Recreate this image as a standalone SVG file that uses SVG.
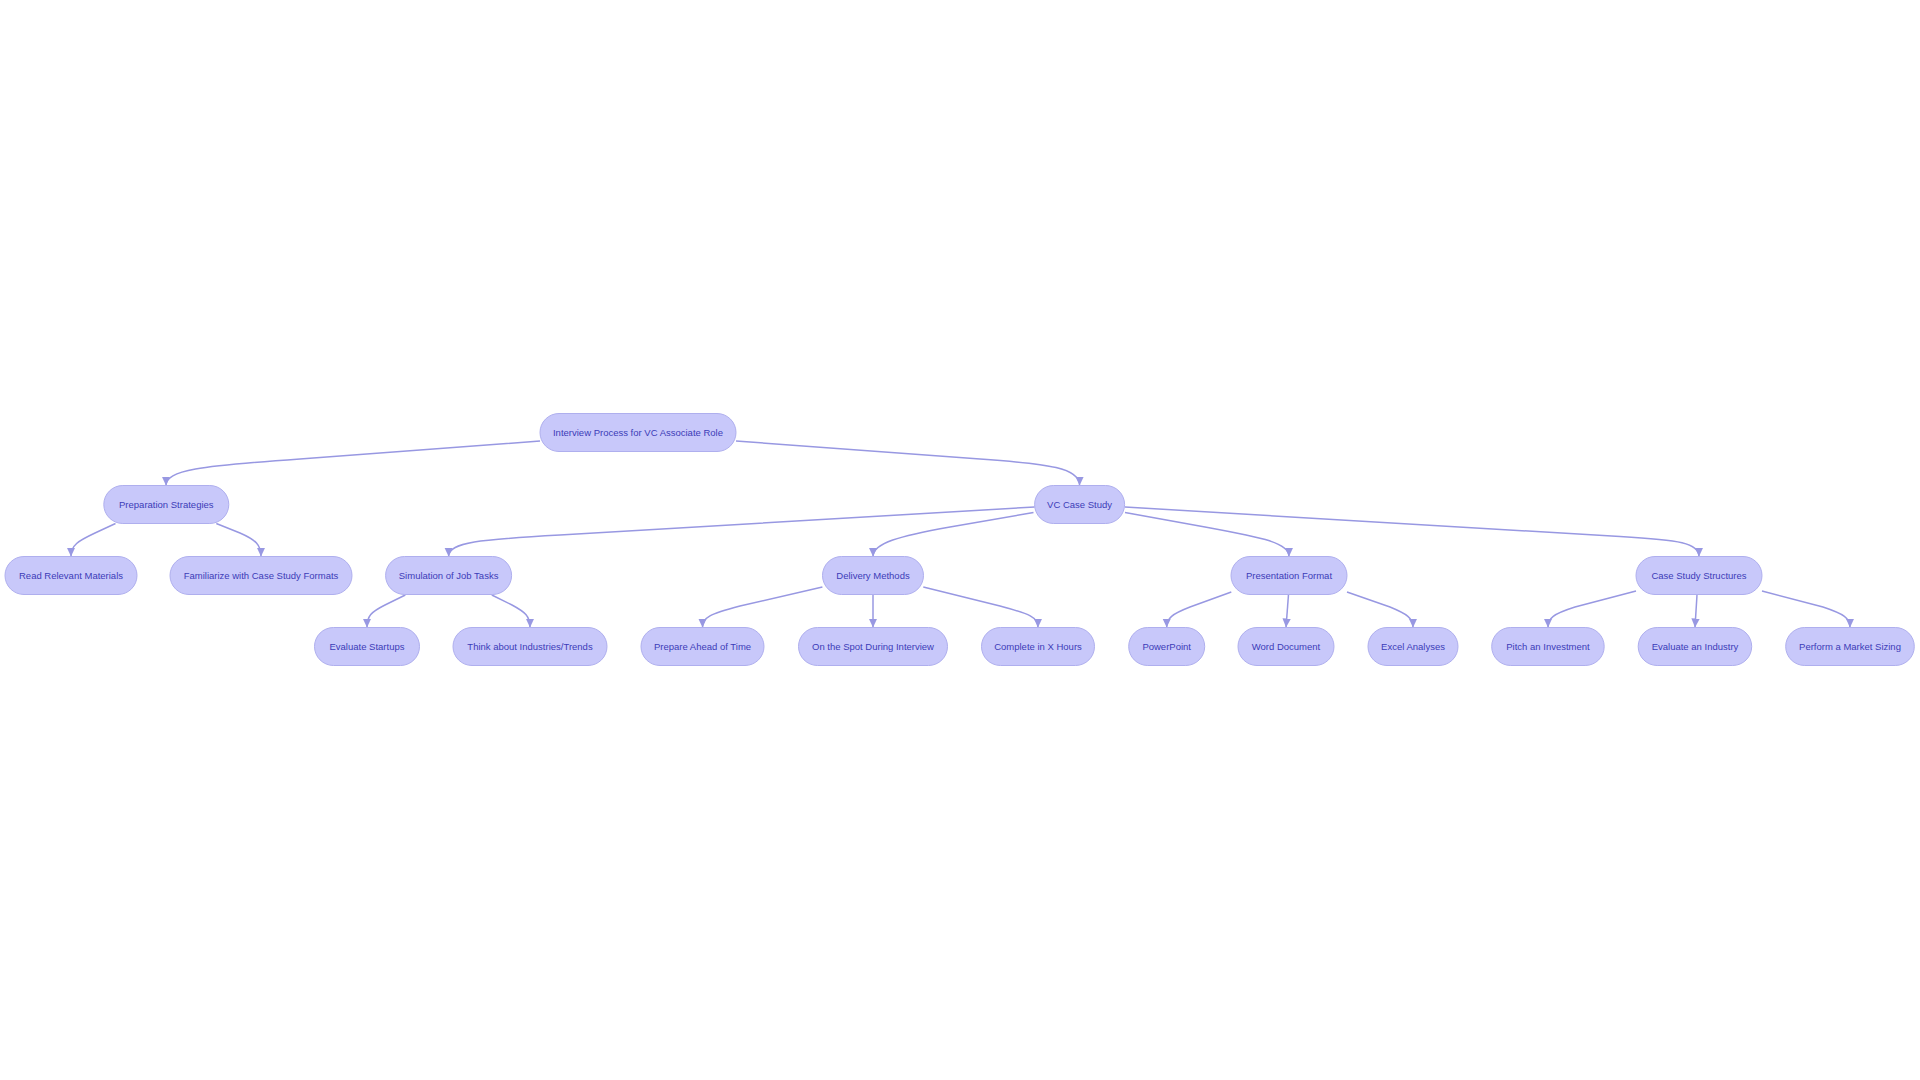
<svg xmlns="http://www.w3.org/2000/svg" width="1920" height="1080" viewBox="0 0 1920 1080">
<style>
.node rect{fill:#c8c8fa;stroke:#afafee;stroke-width:1}
.node text{font-family:"Liberation Sans",Arial,sans-serif;font-size:9.5px;fill:#3c3cb8;text-anchor:middle}
.edge{fill:none;stroke:#9898e2;stroke-width:1.5;marker-end:url(#arrow)}
</style>
<defs>
<marker id="arrow" markerUnits="userSpaceOnUse" markerWidth="10" markerHeight="10" refX="9" refY="4.2" orient="auto">
<path d="M0,0 L9,4.2 L0,8.4 z" fill="#9898e2"/>
</marker>
</defs>
<rect width="1920" height="1080" fill="#ffffff"/>
<g id="connectors">
<path class="edge" d="M540,441 L300,459 C200,466 166,470 166,485.5"/>
<path class="edge" d="M736,441 L980,459 C1050,464 1079.6,468 1079.6,485.5"/>
<path class="edge" d="M115.5,523.5 L95,533 C78,541 71,545 71,556.5"/>
<path class="edge" d="M216.3,523.5 L240,533 C256,540 261,545 261,556.5"/>
<path class="edge" d="M1034.7,507 L560,535 C480,539.5 448.6,542 448.6,556.5"/>
<path class="edge" d="M1033.5,512.5 L950,527 C900,536 873,543 873,556.5"/>
<path class="edge" d="M1125,512.5 L1205,527 C1265,538 1289,543 1289,556.5"/>
<path class="edge" d="M1125,507 L1620,536.5 C1680,540 1699,543 1699,556.5"/>
<path class="edge" d="M405.3,595 L385,605 C371,612 367,616 367,627.5"/>
<path class="edge" d="M491.8,595 L512,605 C525,612 530,616 530,627.5"/>
<path class="edge" d="M822.4,587 L740,606 C710,614 702.5,617 702.5,627.5"/>
<path class="edge" d="M873,594.5 L873,627.5"/>
<path class="edge" d="M923.3,587 L1000,606 C1030,614 1038,617 1038,627.5"/>
<path class="edge" d="M1231.3,592 L1190,607 C1172,614 1166.7,618 1166.7,627.5"/>
<path class="edge" d="M1288.5,594.5 L1286,627.5"/>
<path class="edge" d="M1347,592 L1390,607 C1407,614 1413,618 1413,627.5"/>
<path class="edge" d="M1636,591 L1575,607 C1553,614 1548,618 1548,627.5"/>
<path class="edge" d="M1697,594.5 L1695,627.5"/>
<path class="edge" d="M1762,591 L1823,607 C1844,614 1850,618 1850,627.5"/>
</g>
<g id="n0" class="node"><rect x="540" y="413.5" width="196" height="38" rx="19"/><text x="638" y="435.9">Interview Process for VC Associate Role</text></g>
<g id="n1" class="node"><rect x="103.8" y="485.5" width="125" height="38" rx="19"/><text x="166.3" y="507.9">Preparation Strategies</text></g>
<g id="n2" class="node"><rect x="1034.6" y="485.5" width="90" height="38" rx="19"/><text x="1079.6" y="507.9">VC Case Study</text></g>
<g id="n3" class="node"><rect x="5" y="556.5" width="132" height="38" rx="19"/><text x="71" y="578.9">Read Relevant Materials</text></g>
<g id="n4" class="node"><rect x="170" y="556.5" width="182" height="38" rx="19"/><text x="261" y="578.9">Familiarize with Case Study Formats</text></g>
<g id="n5" class="node"><rect x="385.6" y="556.5" width="126" height="38" rx="19"/><text x="448.6" y="578.9">Simulation of Job Tasks</text></g>
<g id="n6" class="node"><rect x="822.5" y="556.5" width="101" height="38" rx="19"/><text x="873" y="578.9">Delivery Methods</text></g>
<g id="n7" class="node"><rect x="1231" y="556.5" width="116" height="38" rx="19"/><text x="1289" y="578.9">Presentation Format</text></g>
<g id="n8" class="node"><rect x="1636" y="556.5" width="126" height="38" rx="19"/><text x="1699" y="578.9">Case Study Structures</text></g>
<g id="n9" class="node"><rect x="314.5" y="627.5" width="105" height="38" rx="19"/><text x="367" y="649.9">Evaluate Startups</text></g>
<g id="n10" class="node"><rect x="453" y="627.5" width="154" height="38" rx="19"/><text x="530" y="649.9">Think about Industries/Trends</text></g>
<g id="n11" class="node"><rect x="641" y="627.5" width="123" height="38" rx="19"/><text x="702.5" y="649.9">Prepare Ahead of Time</text></g>
<g id="n12" class="node"><rect x="798.5" y="627.5" width="149" height="38" rx="19"/><text x="873" y="649.9">On the Spot During Interview</text></g>
<g id="n13" class="node"><rect x="981.5" y="627.5" width="113" height="38" rx="19"/><text x="1038" y="649.9">Complete in X Hours</text></g>
<g id="n14" class="node"><rect x="1128.7" y="627.5" width="76" height="38" rx="19"/><text x="1166.7" y="649.9">PowerPoint</text></g>
<g id="n15" class="node"><rect x="1238" y="627.5" width="96" height="38" rx="19"/><text x="1286" y="649.9">Word Document</text></g>
<g id="n16" class="node"><rect x="1368" y="627.5" width="90" height="38" rx="19"/><text x="1413" y="649.9">Excel Analyses</text></g>
<g id="n17" class="node"><rect x="1491.7" y="627.5" width="112.5" height="38" rx="19"/><text x="1548" y="649.9">Pitch an Investment</text></g>
<g id="n18" class="node"><rect x="1638.2" y="627.5" width="113.5" height="38" rx="19"/><text x="1695" y="649.9">Evaluate an Industry</text></g>
<g id="n19" class="node"><rect x="1785.7" y="627.5" width="128.6" height="38" rx="19"/><text x="1850" y="649.9">Perform a Market Sizing</text></g>
</svg>
